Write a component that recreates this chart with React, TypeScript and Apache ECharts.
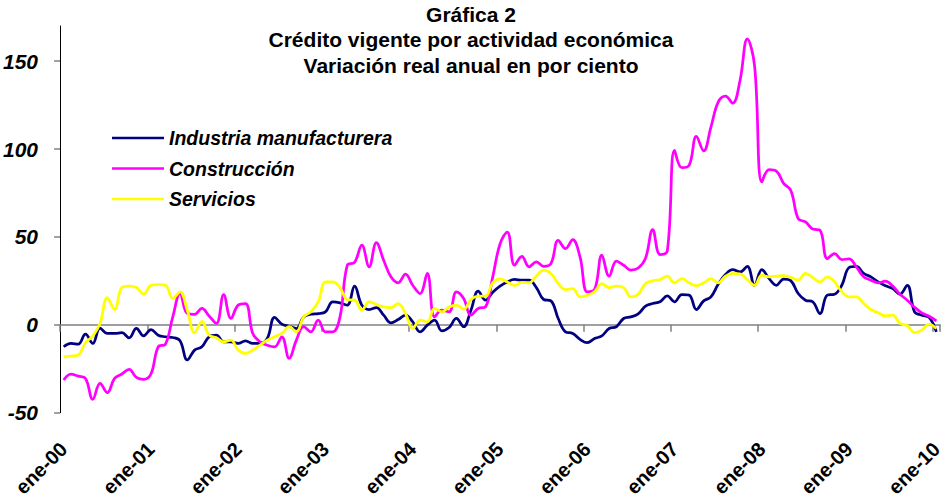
import React, { useEffect, useRef } from "react";
import * as echarts from "echarts";

const monthNames = ["ene", "feb", "mar", "abr", "may", "jun", "jul", "ago", "sep", "oct", "nov", "dic"];
const years = ["00", "01", "02", "03", "04", "05", "06", "07", "08", "09", "10"];
const categories: string[] = [];
years.forEach((y, yi) => {
  monthNames.forEach((m, mi) => {
    if (yi < years.length - 1 || mi === 0) categories.push(`${m}-${y}`);
  });
});

const industria = [
  -12.5, -10.6, -11, -5.3, -10.6, -1.9, -4.9, -4.9, -4.5, -7.4, -2, -6.3,
  -2.7, -5.9, -6.8, -7.2, -9, -20, -14.4, -12.5, -6.8, -5.9, -9.7, -9.7,
  -10.6, -9.1, -10.6, -10.6, -7.8, 4.2, 0.4, -0.8, -2.1, 4.5, 6, 6.4,
  7.4, 13, 12.5, 11.2, 22, 11.2, 8.7, 9.8, 5.5, 1.1, 3, 5.5,
  1.7, -4, -0.2, 2.7, -3.4, -1.5, 3.6, -1.1, 8.3, 19.1, 14, 18.5,
  22, 24.4, 25.8, 25.4, 25.4, 21.2, 14.4, 13.6, 3.6, -4, -4.9, -8.3,
  -10.2, -7.8, -6.3, -2.1, -1.1, 3.6, 4.5, 6.2, 10.6, 12.1, 13.1, 16.5,
  13.1, 17.2, 16.9, 8.7, 13.6, 15.9, 23.1, 28.6, 31.4, 30.1, 33.3, 22.5,
  31.4, 26.3, 22.5, 26, 25, 17.8, 14, 13.1, 6.4, 16.9, 17.4, 22.5,
  32.6, 33.3, 29.2, 27.3, 24.4, 22.2, 20.6, 17.4, 22.5, 7.4, 5.5, 4.2,
  -4,
];

const construccion = [
  -31.4, -28, -29.2, -30.5, -42.4, -33.3, -38.6, -30.5, -28, -25.4, -29.9, -31,
  -28, -12.5, -11, 4.5, 17.8, 6.4, 6, 9.3, 5, 0.8, 17.2, 3.6,
  11.2, 12.1, -4.9, -9.7, -11.6, -12.5, -6.8, -19.1, -8.7, -1.1, -4, 2.7,
  -4, -4, 4.5, 33.9, 35.5, 45.3, 33, 46.8, 36.7, 27.3, 23.9, 28.8,
  22.5, 17.8, 29.2, 4.5, 8.3, 7.4, 18.8, 15, 5.5, 9.3, 10.2, 27.3,
  46, 52.8, 33.9, 39, 33, 35.8, 33.3, 34.8, 48.1, 43.4, 48.5, 38.6,
  18.8, 20, 39.6, 27.7, 36.2, 33.9, 31.1, 32.3, 37.8, 54.2, 40, 42,
  99.2, 89.4, 90.7, 107.2, 98.9, 112.5, 126.7, 130.1, 126.1, 139, 162.7, 147.5,
  81.3, 88.3, 87.5, 80.5, 76.3, 60.4, 58.5, 54.5, 53.8, 37.7, 40.5, 37.1,
  37.5, 33, 27.3, 25.4, 23.9, 24.8, 22, 17.4, 14, 10, 6.8, 4.9,
  2.3,
];

const servicios = [
  -18.2, -17.8, -17.2, -10.2, -6.4, 0.8, 15.5, 8.7, 21.2, 22, 21.2, 17.4,
  22.5, 22.9, 22.5, 15, 18.8, 8.3, -4.5, 2, -5.9, -7.4, -9.7, -8.7,
  -14.4, -16.3, -14.4, -11.6, -8.7, -6.8, -4.9, -1.1, -4, 4.5, 7.4, 13,
  24.4, 24.4, 21.2, 14.3, 14, 8.3, 13, 11.6, 10.2, 9.8, 12.1, 6.4,
  -2.1, 2.7, 1.7, 9.3, 7.4, 10.2, 11.2, 8.9, 14.4, 16.3, 16.3, 24,
  26.2, 24.4, 22.5, 24.2, 23.9, 27.7, 31.1, 29.2, 23.5, 20.1, 20.6, 15.9,
  16.8, 18.8, 23.5, 21.2, 22, 21.2, 15.9, 17.4, 23.5, 25, 25.8, 27.7,
  23.9, 26.3, 23.9, 22.3, 23.9, 26.3, 23.9, 27.7, 29.2, 29, 25.8, 22.5,
  28.2, 27.3, 27.7, 28, 27, 25.4, 29.2, 26.9, 24.4, 27.3, 24.4, 18.8,
  15.9, 15.9, 12.1, 8.7, 6.8, 5.1, 5.5, 0.8, -0.4, -4.5, -3, 0.4,
  -2.1,
];

const yTicks = [-50, 0, 50, 100, 150];
const titleLines = [
  "Gráfica 2",
  "Crédito vigente por actividad económica",
  "Variación real anual en por ciento",
];

const FONT = "'Liberation Sans', Arial, sans-serif";

export default function App() {
  const ref = useRef<HTMLDivElement>(null);
  useEffect(() => {
    if (!ref.current) return;
    const chart = echarts.init(ref.current, null, { renderer: "svg" });
    const yearTick = (index: number) => index % 12 === 0;
    chart.setOption({
      animation: false,
      backgroundColor: "#ffffff",
      textStyle: { fontFamily: FONT },
      graphic: titleLines.map((t, i) => ({
        type: "text",
        x: 471,
        y: 14 + i * 25.5,
        style: {
          text: t,
          fill: "#000",
          font: `bold 21px ${FONT}`,
          textAlign: "center",
          textVerticalAlign: "middle",
        },
      })),
      legend: {
        orient: "vertical",
        left: 107,
        top: 122,
        icon: "rect",
        itemWidth: 52,
        itemHeight: 2.5,
        itemGap: 8.5,
        textStyle: {
          fontFamily: FONT,
          fontSize: 19.5,
          fontWeight: "bold",
          fontStyle: "italic",
          color: "#000",
          lineHeight: 22,
        },
        data: ["Industria manufacturera", "Construcción", "Servicios"],
      },
      grid: { left: 60, right: 8, top: 26, bottom: 87.3, containLabel: false },
      xAxis: [
        {
          type: "category",
          data: categories,
          boundaryGap: true,
          position: "bottom",
          axisLine: { show: true, onZero: true, lineStyle: { color: "#808080", width: 1.5 } },
          axisTick: { show: true, interval: yearTick, length: 7, lineStyle: { color: "#808080", width: 1.5 } },
          axisLabel: { show: false },
          splitLine: { show: false },
        },
        {
          type: "category",
          data: categories,
          boundaryGap: true,
          position: "bottom",
          axisLine: { show: false, onZero: false },
          axisTick: { show: false },
          axisLabel: {
            show: true,
            interval: (index: number) => index % 12 === 0,
            rotate: 45,
            margin: 33,
            fontFamily: FONT,
            fontSize: 20,
            fontWeight: "bold",
            color: "#000",
          },
          splitLine: { show: false },
        },
      ],
      yAxis: {
        type: "value",
        min: -50,
        max: 170,
        interval: 50,
        axisLine: { show: true, onZero: false, lineStyle: { color: "#000", width: 1 } },
        axisTick: { show: true, length: 6, customValues: yTicks, lineStyle: { color: "#808080", width: 1.5 } },
        axisLabel: {
          customValues: yTicks,
          margin: 22,
          fontFamily: FONT,
          fontSize: 21,
          fontWeight: "bold",
          fontStyle: "italic",
          color: "#000",
        },
        splitLine: { show: false },
      },
      series: [
        {
          name: "Industria manufacturera",
          type: "line",
          data: industria,
          smooth: 0.4,
          showSymbol: false,
          symbol: "none",
          itemStyle: { color: "#000080" },
          lineStyle: { color: "#000080", width: 2.75 },
        },
        {
          name: "Construcción",
          type: "line",
          data: construccion,
          smooth: 0.4,
          showSymbol: false,
          symbol: "none",
          itemStyle: { color: "#FF00FF" },
          lineStyle: { color: "#FF00FF", width: 2.75 },
        },
        {
          name: "Servicios",
          type: "line",
          data: servicios,
          smooth: 0.4,
          showSymbol: false,
          symbol: "none",
          itemStyle: { color: "#FFFF00" },
          lineStyle: { color: "#FFFF00", width: 2.75 },
        },
      ],
    });
    return () => chart.dispose();
  }, []);
  return (
    <div
      ref={ref}
      style={{ position: "fixed", left: 0, top: 0, width: 948, height: 500, background: "#fff" }}
    />
  );
}
